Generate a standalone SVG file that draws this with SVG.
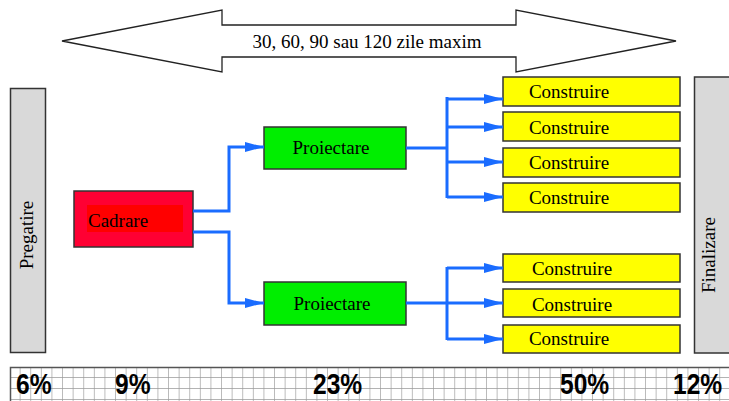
<svg xmlns="http://www.w3.org/2000/svg" width="729" height="401" viewBox="0 0 729 401">
  <defs>
    <style>
      .lbl { font-family: "Liberation Serif", "Times New Roman", serif; font-size: 19px; fill: #000; }
      .pct { font-family: "Liberation Sans", Arial, sans-serif; font-weight: bold; font-size: 30px; fill: #000; }
      .phase { fill: #d9d9d9; stroke: #333; stroke-width: 1.5; }
      .build { fill: #ffff00; stroke: #333; stroke-width: 1.5; }
      .design { fill: #00ee00; stroke: #333; stroke-width: 1.5; }
      .wire { fill: none; stroke: #1a6cff; stroke-width: 3; }
    </style>
    <marker id="tip" markerUnits="userSpaceOnUse" markerWidth="20" markerHeight="12" refX="19" refY="6" orient="auto">
      <path d="M0,1 L19,6 L0,11 Z" fill="#1a6cff"/>
    </marker>
    <pattern id="grid" patternUnits="userSpaceOnUse" x="10" y="367" width="10.6" height="11">
      <rect width="10.6" height="11" fill="#ffffff"/>
      <path d="M10.6,0 V11 M0,11 H10.6" stroke="#9a9a9a" stroke-width="1.3" fill="none"/>
    </pattern>
  </defs>

  <rect width="729" height="401" fill="#ffffff"/>

  <!-- duration span: double-headed block arrow -->
  <g id="duration">
    <path d="M62,41 L222,10 L222,25 L516,25 L516,10 L676,41 L516,72 L516,57 L222,57 L222,72 Z" fill="#ffffff" stroke="#222" stroke-width="1.3"/>
    <text class="lbl" x="367" y="48" text-anchor="middle" font-size="17.5">30, 60, 90 sau 120 zile maxim</text>
  </g>

  <!-- preparation phase -->
  <g id="pregatire">
    <rect class="phase" x="10.5" y="88.5" width="35" height="264"/>
    <text class="lbl" transform="translate(33,235) rotate(-90)" text-anchor="middle">Pregatire</text>
  </g>

  <!-- framing -->
  <g id="cadrare">
    <rect x="74" y="191" width="119" height="56" fill="#ff0033" stroke="#333" stroke-width="1.5"/>
    <rect x="87" y="205" width="96" height="27" fill="#ff0000"/>
    <text class="lbl" x="88" y="227">Cadrare</text>
  </g>

  <!-- design blocks -->
  <g id="proiectare-1">
    <rect class="design" x="264" y="127" width="142" height="42"/>
    <text class="lbl" x="331" y="154" text-anchor="middle">Proiectare</text>
  </g>
  <g id="proiectare-2">
    <rect class="design" x="264" y="282" width="142" height="43"/>
    <text class="lbl" x="332" y="310" text-anchor="middle">Proiectare</text>
  </g>

  <!-- build blocks -->
  <g id="construire-1">
    <rect class="build" x="503" y="77" width="177" height="29"/>
    <text class="lbl" x="569" y="98" text-anchor="middle">Construire</text>
  </g>
  <g id="construire-2">
    <rect class="build" x="503" y="112" width="177" height="29"/>
    <text class="lbl" x="569" y="134" text-anchor="middle">Construire</text>
  </g>
  <g id="construire-3">
    <rect class="build" x="503" y="148" width="177" height="29"/>
    <text class="lbl" x="569" y="169" text-anchor="middle">Construire</text>
  </g>
  <g id="construire-4">
    <rect class="build" x="503" y="183" width="177" height="29"/>
    <text class="lbl" x="569" y="204" text-anchor="middle">Construire</text>
  </g>
  <g id="construire-5">
    <rect class="build" x="503" y="254" width="177" height="28"/>
    <text class="lbl" x="572" y="275" text-anchor="middle">Construire</text>
  </g>
  <g id="construire-6">
    <rect class="build" x="503" y="289" width="177" height="28"/>
    <text class="lbl" x="572" y="311" text-anchor="middle">Construire</text>
  </g>
  <g id="construire-7">
    <rect class="build" x="503" y="325" width="177" height="28"/>
    <text class="lbl" x="569" y="345" text-anchor="middle">Construire</text>
  </g>

  <!-- finalisation phase -->
  <g id="finalizare">
    <rect class="phase" x="694.5" y="77" width="40" height="276"/>
    <text class="lbl" transform="translate(715,255) rotate(-90)" text-anchor="middle">Finalizare</text>
  </g>

  <!-- connectors -->
  <g id="connectors">
    <path class="wire" d="M193,211 H229 V147 H264" marker-end="url(#tip)"/>
    <path class="wire" d="M193,232 H229 V303 H264" marker-end="url(#tip)"/>
    <path class="wire" d="M406,148 H447"/>
    <path class="wire" d="M447,97 V198"/>
    <path class="wire" d="M447,99 H503" marker-end="url(#tip)"/>
    <path class="wire" d="M447,127 H503" marker-end="url(#tip)"/>
    <path class="wire" d="M447,162 H503" marker-end="url(#tip)"/>
    <path class="wire" d="M447,197 H503" marker-end="url(#tip)"/>
    <path class="wire" d="M406,303 H447"/>
    <path class="wire" d="M447,267 V340"/>
    <path class="wire" d="M447,268 H503" marker-end="url(#tip)"/>
    <path class="wire" d="M447,303 H503" marker-end="url(#tip)"/>
    <path class="wire" d="M447,339 H503" marker-end="url(#tip)"/>
  </g>

  <!-- effort share scale -->
  <g id="scale">
    <rect x="10.5" y="367.5" width="720" height="40" fill="url(#grid)" stroke="#555" stroke-width="1.5"/>
    <g class="pct">
      <text transform="translate(16,394) scale(0.82,1)">6%</text>
      <text transform="translate(115,394) scale(0.82,1)">9%</text>
      <text transform="translate(313,394) scale(0.82,1)">23%</text>
      <text transform="translate(560,394) scale(0.82,1)">50%</text>
      <text transform="translate(673,394) scale(0.82,1)">12%</text>
    </g>
  </g>
</svg>
